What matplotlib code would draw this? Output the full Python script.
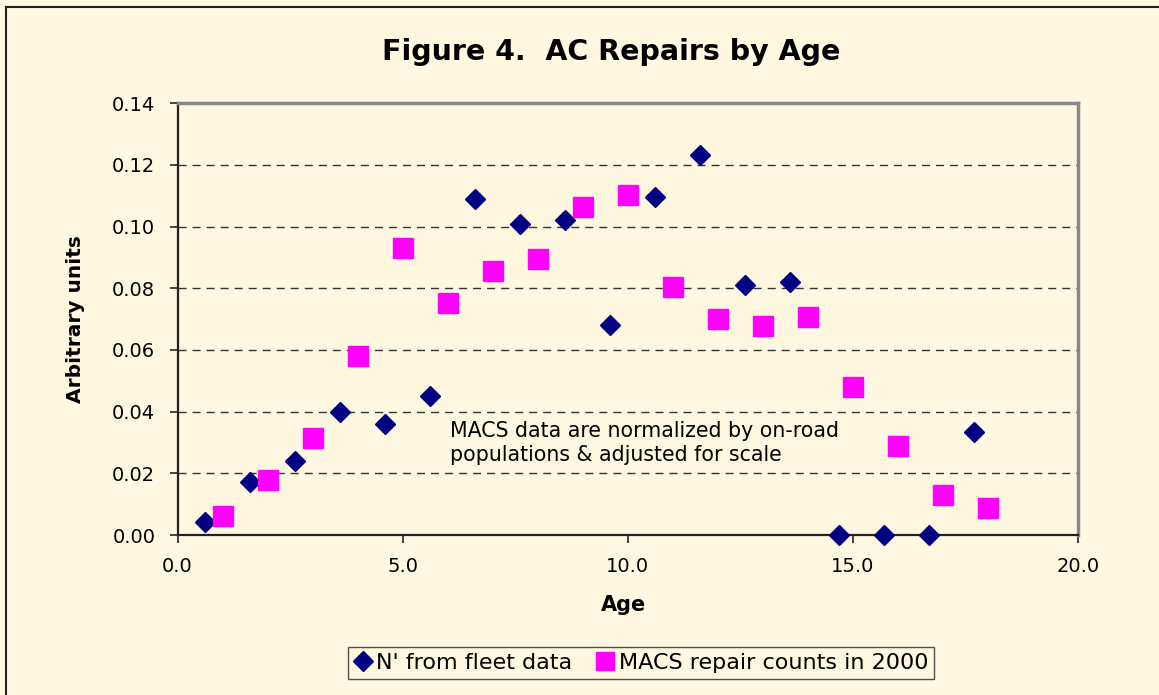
#!/usr/bin/python
# coding=utf-8
''' Figure 4. AC repairs by age - scatter of fleet data vs MACS counts '''

import matplotlib
matplotlib.use('Agg')
import matplotlib.pyplot as plt

plt.rcParams['font.family'] = ['DejaVu Sans']

BG = '#FFF8E0'

# N' from fleet data
fleet_age = [0.6, 1.6, 2.6, 3.6, 4.6, 5.6, 6.6, 7.6, 8.6, 9.6, 10.6, 11.6,
             12.6, 13.6, 14.7, 15.7, 16.7, 17.7]
fleet_val = [0.0043, 0.0171, 0.0241, 0.0400, 0.0359, 0.0450, 0.1089, 0.1010,
             0.1023, 0.0681, 0.1096, 0.1232, 0.0812, 0.0821, 0.0, 0.0, 0.0,
             0.0334]

# MACS repair counts in 2000
macs_age = list(range(1, 19))
macs_val = [0.0063, 0.0179, 0.0314, 0.0579, 0.0930, 0.0751, 0.0855, 0.0895,
            0.1063, 0.1101, 0.0805, 0.0702, 0.0679, 0.0706, 0.0480, 0.0290,
            0.0129, 0.0086]

xticks = [0, 5, 10, 15, 20]
yticks = [0.00, 0.02, 0.04, 0.06, 0.08, 0.10, 0.12, 0.14]

fig = plt.figure(figsize=(11.59, 6.95), dpi=100, facecolor=BG)
# outer chart border
fig.patches.append(plt.Rectangle((0.005, -0.01), 1.2, 1.0, transform=fig.transFigure,
                                 fill=False, edgecolor='#222222', linewidth=1.5))

ax = fig.add_axes([0.1532, 0.2302, 0.9301 - 0.1532, 0.8514 - 0.2302])
ax.set_facecolor(BG)

ax.plot(fleet_age, fleet_val, linestyle='none', marker='D', markersize=10.5,
        color='#000080', label="N' from fleet data", clip_on=False, zorder=3)
ax.plot(macs_age, macs_val, linestyle='none', marker='s', markersize=14,
        color='#FF00FF', label='MACS repair counts in 2000', clip_on=False, zorder=3)

ax.set_xlim(0, 20)
ax.set_ylim(0, 0.14)
ax.set_xticks(xticks)
ax.set_xticklabels(['%.1f' % v for v in xticks])
ax.set_yticks(yticks)
ax.set_yticklabels(['%.2f' % v for v in yticks])
ax.tick_params(axis='both', labelsize=14, direction='out', length=6,
               width=1.2, color='#222222')
ax.tick_params(axis='x', pad=10)
ax.tick_params(axis='y', pad=10)

ax.yaxis.grid(True, linestyle=(0, (5.8, 4.3)), color='#333333', linewidth=1)
ax.set_axisbelow(True)

for side in ['left', 'bottom']:
    ax.spines[side].set_color('#222222')
    ax.spines[side].set_linewidth(1.6)
for side in ['top', 'right']:
    ax.spines[side].set_color('#888888')
    ax.spines[side].set_linewidth(2.5)

ax.set_xlabel('Age', fontsize=15, fontweight='bold')
ax.xaxis.set_label_coords(0.495, -0.138)
ax.set_ylabel('Arbitrary units', fontsize=14.5, fontweight='bold')
ax.yaxis.set_label_coords(-0.103, 0.5)

fig.text(0.527, 0.925, 'Figure 4.  AC Repairs by Age', ha='center', va='center',
         fontsize=20.5, fontweight='bold')

ax.text(6.05, 0.0297, 'MACS data are normalized by on-road\npopulations & adjusted for scale',
        fontsize=14.8, ha='left', va='center', linespacing=1.25)

leg = fig.legend(loc='center', bbox_to_anchor=(0.553, 0.046), ncol=2, fontsize=16,
                 frameon=True, fancybox=False, edgecolor='#222222',
                 facecolor=BG, handlelength=0.8, handletextpad=0.2,
                 columnspacing=1.1, borderpad=0.25, markerscale=0.95)
leg.get_frame().set_linewidth(1.0)

fig.savefig('out.png', dpi=100, facecolor=BG)
